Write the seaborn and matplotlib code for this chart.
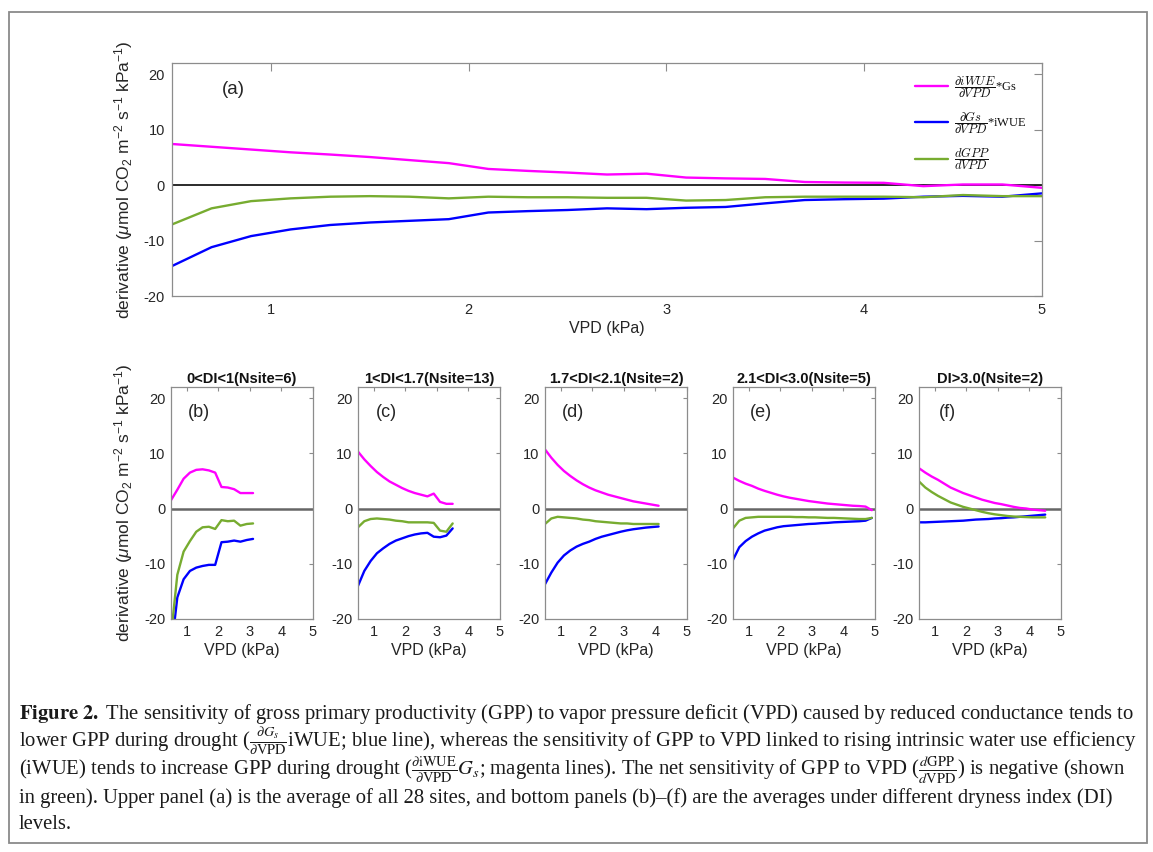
import numpy as np
import pandas as pd
import matplotlib
matplotlib.use("Agg")
import matplotlib.pyplot as plt
import seaborn as sns
from matplotlib.font_manager import FontProperties
from matplotlib.lines import Line2D
from matplotlib.patches import Rectangle

# ---------------- data ----------------
vpd_a = [0.5, 0.7, 0.9, 1.1, 1.3, 1.5, 1.7, 1.9, 2.1, 2.3, 2.5, 2.7, 2.9, 3.1, 3.3, 3.5, 3.7, 3.9, 4.1, 4.3, 4.5, 4.7, 4.9]
a_iwue = [7.4, 6.9, 6.4, 5.9, 5.5, 5.05, 4.5, 3.95, 2.9, 2.55, 2.25, 1.9, 2.05, 1.35, 1.2, 1.1, 0.55, 0.45, 0.4, -0.2, 0.1, 0.1, -0.5]
a_gs = [-14.6, -11.2, -9.2, -8.0, -7.2, -6.75, -6.45, -6.15, -4.95, -4.7, -4.5, -4.2, -4.35, -4.1, -3.95, -3.3, -2.7, -2.55, -2.45, -2.1, -1.95, -2.1, -1.5]
a_gpp = [-7.1, -4.2, -2.9, -2.4, -2.1, -2.0, -2.1, -2.4, -2.1, -2.2, -2.2, -2.3, -2.3, -2.8, -2.7, -2.2, -2.1, -2.1, -2.1, -2.2, -1.8, -2.0, -2.0]

vpd_b = [0.5, 0.7, 0.9, 1.1, 1.3, 1.5, 1.7, 1.9, 2.1, 2.3, 2.5, 2.7, 2.9, 3.1]
b_iwue = [1.5, 3.4, 5.4, 6.5, 7.0, 7.1, 6.9, 6.5, 3.9, 3.8, 3.5, 2.8, 2.8, 2.8]
b_gs = [-26.0, -16.1, -12.8, -11.3, -10.7, -10.4, -10.2, -10.2, -6.1, -6.0, -5.8, -6.0, -5.7, -5.5]
b_gpp = [-23.0, -12.0, -7.8, -5.9, -4.2, -3.4, -3.3, -3.7, -2.1, -2.3, -2.2, -3.1, -2.8, -2.7]

vpd_c = [0.5, 0.7, 0.9, 1.1, 1.3, 1.5, 1.7, 1.9, 2.1, 2.3, 2.5, 2.7, 2.9, 3.1, 3.3, 3.5]
c_iwue = [10.3, 8.9, 7.7, 6.6, 5.7, 4.9, 4.3, 3.7, 3.2, 2.8, 2.5, 2.2, 2.7, 1.2, 0.85, 0.85]
c_gs = [-14.0, -11.3, -9.5, -8.1, -7.2, -6.4, -5.8, -5.4, -5.0, -4.7, -4.5, -4.4, -5.1, -5.2, -4.9, -3.6]
c_gpp = [-3.4, -2.3, -1.9, -1.8, -1.9, -2.0, -2.2, -2.3, -2.5, -2.5, -2.5, -2.5, -2.6, -4.0, -4.2, -2.7]

vpd_d = [0.5, 0.7, 0.9, 1.1, 1.3, 1.5, 1.7, 1.9, 2.1, 2.3, 2.5, 2.7, 2.9, 3.1, 3.3, 3.5, 3.7, 3.9, 4.1]
d_iwue = [10.7, 9.2, 7.9, 6.8, 5.9, 5.1, 4.4, 3.8, 3.3, 2.9, 2.5, 2.2, 1.9, 1.6, 1.3, 1.1, 0.9, 0.7, 0.5]
d_gs = [-13.7, -11.6, -9.8, -8.5, -7.6, -6.9, -6.4, -6.0, -5.5, -5.1, -4.8, -4.5, -4.2, -3.95, -3.75, -3.6, -3.45, -3.35, -3.25]
d_gpp = [-2.8, -1.8, -1.5, -1.6, -1.7, -1.8, -2.0, -2.1, -2.3, -2.4, -2.5, -2.6, -2.7, -2.7, -2.8, -2.8, -2.8, -2.8, -2.8]

vpd_e = [0.5, 0.7, 0.9, 1.1, 1.3, 1.5, 1.7, 1.9, 2.1, 2.3, 2.5, 2.7, 2.9, 3.1, 3.3, 3.5, 3.7, 3.9, 4.1, 4.3, 4.5, 4.7, 4.9]
e_iwue = [5.6, 5.0, 4.5, 4.1, 3.6, 3.2, 2.85, 2.5, 2.2, 1.95, 1.75, 1.55, 1.35, 1.2, 1.05, 0.9, 0.8, 0.7, 0.6, 0.5, 0.45, 0.35, -0.3]
e_gs = [-9.3, -7.0, -5.9, -5.1, -4.5, -4.0, -3.7, -3.4, -3.2, -3.1, -3.0, -2.9, -2.8, -2.75, -2.65, -2.6, -2.5, -2.45, -2.4, -2.35, -2.3, -2.2, -1.7]
e_gpp = [-3.6, -2.2, -1.7, -1.6, -1.5, -1.5, -1.5, -1.5, -1.5, -1.5, -1.55, -1.55, -1.6, -1.6, -1.65, -1.7, -1.7, -1.75, -1.8, -1.85, -1.9, -1.9, -1.7]

vpd_f = [0.5, 0.7, 0.9, 1.1, 1.3, 1.5, 1.7, 1.9, 2.1, 2.3, 2.5, 2.7, 2.9, 3.1, 3.3, 3.5, 3.7, 3.9, 4.1, 4.3, 4.5]
f_iwue = [7.3, 6.5, 5.8, 5.2, 4.5, 3.8, 3.3, 2.8, 2.4, 2.0, 1.6, 1.3, 1.0, 0.8, 0.55, 0.3, 0.1, 0.0, -0.2, -0.3, -0.4]
f_gs = [-2.5, -2.5, -2.45, -2.4, -2.35, -2.3, -2.25, -2.2, -2.1, -2.0, -1.95, -1.9, -1.8, -1.75, -1.65, -1.6, -1.5, -1.4, -1.3, -1.2, -1.1]
f_gpp = [4.9, 3.8, 3.0, 2.3, 1.7, 1.1, 0.7, 0.3, 0.0, -0.3, -0.6, -0.85, -1.05, -1.2, -1.35, -1.45, -1.5, -1.55, -1.6, -1.6, -1.6]

top_xtick_pos = [1, 2, 3, 4, 4.9]
top_xtick_labels = ["1", "2", "3", "4", "5"]
panel_titles = ["0<DI<1(Nsite=6)", "1<DI<1.7(Nsite=13)", "1.7<DI<2.1(Nsite=2)",
                "2.1<DI<3.0(Nsite=5)", "DI>3.0(Nsite=2)"]
panel_letters = ["(b)", "(c)", "(d)", "(e)", "(f)"]
series_names = ["iwue", "gs", "gpp"]
series_colors = {"iwue": "#FF00FF", "gs": "#0000FF", "gpp": "#77AC30"}
legend_labels = [r"$\dfrac{\partial iWUE}{\partial VPD}$*Gs",
                 r"$\dfrac{\partial Gs}{\partial VPD}$*iWUE",
                 r"$\dfrac{dGPP}{dVPD}$"]
ylabel_text = r"derivative ($\mu$mol CO$_2$ m$^{-2}$ s$^{-1}$ kPa$^{-1}$)"

caption_lines = [
    r"$\mathbf{Figure\ 2.}$ The sensitivity of gross primary productivity (GPP) to vapor pressure deficit (VPD) caused by reduced conductance tends to",
    r"lower GPP during drought ($\frac{\partial G_s}{\partial \mathrm{VPD}}$iWUE; blue line), whereas the sensitivity of GPP to VPD linked to rising intrinsic water use efficiency",
    r"(iWUE) tends to increase GPP during drought ($\frac{\partial \mathrm{iWUE}}{\partial \mathrm{VPD}}G_s$; magenta lines). The net sensitivity of GPP to VPD ($\frac{d\mathrm{GPP}}{d\mathrm{VPD}}$) is negative (shown",
    "in green). Upper panel (a) is the average of all 28 sites, and bottom panels (b)\u2013(f) are the averages under different dryness index (DI)",
    "levels.",
]


def make_df(x, iwue, gs, gpp):
    frames = []
    for name, vals in zip(series_names, [iwue, gs, gpp]):
        frames.append(pd.DataFrame({"VPD": x, "value": vals, "series": name}))
    return pd.concat(frames, ignore_index=True)


df_a = make_df(vpd_a, a_iwue, a_gs, a_gpp)
df_bottom = [make_df(vpd_b, b_iwue, b_gs, b_gpp),
             make_df(vpd_c, c_iwue, c_gs, c_gpp),
             make_df(vpd_d, d_iwue, d_gs, d_gpp),
             make_df(vpd_e, e_iwue, e_gs, e_gpp),
             make_df(vpd_f, f_iwue, f_gs, f_gpp)]

# ---------------- style ----------------
sns.set_theme(style="white")
plt.rcParams["font.family"] = ["Liberation Sans", "DejaVu Sans"]
plt.rcParams["mathtext.fontset"] = "custom"
plt.rcParams["mathtext.rm"] = "Liberation Sans"
plt.rcParams["mathtext.it"] = "Liberation Sans:italic"
plt.rcParams["mathtext.bf"] = "Liberation Sans:bold"
plt.rcParams["axes.unicode_minus"] = False

TXT = "#262626"
SPINE = "#8c8c8c"

W, H = 1153, 852
fig = plt.figure(figsize=(W / 100, H / 100), dpi=100)
fig.patch.set_facecolor("white")


def px_axes(left, top, right, bottom):
    return fig.add_axes([left / W, 1 - bottom / H, (right - left) / W, (bottom - top) / H])


def style_axes(ax, ticklen):
    for s in ax.spines.values():
        s.set_visible(True)
        s.set_color(SPINE)
        s.set_linewidth(0.9)
    ax.tick_params(direction="in", top=True, right=True, length=ticklen, width=0.8,
                   color=SPINE, labelcolor=TXT, labelsize=10.5, pad=4)
    ax.set_facecolor("white")


# ---------------- top panel ----------------
ax = px_axes(172, 63, 1042, 296)
ax.axhline(0, color="#1a1a1a", lw=1.3, zorder=1)
sns.lineplot(data=df_a, x="VPD", y="value", hue="series", hue_order=series_names,
             palette=series_colors, estimator=None, sort=False, lw=1.7,
             legend=False, ax=ax, zorder=2)
ax.set_xlim(0.5, 4.9)
ax.set_ylim(-20, 22)
ax.set_xticks(top_xtick_pos)
ax.set_xticklabels(top_xtick_labels)
ax.set_yticks([-20, -10, 0, 10, 20])
style_axes(ax, 5.5)
ax.tick_params(axis="both", pad=5)
ax.set_xlabel("VPD (kPa)", fontsize=11.5, color=TXT, labelpad=3)
ax.set_ylabel(ylabel_text, fontsize=12.5, color=TXT, labelpad=6)
ax.text(0.07, 0.885, "(a)", transform=ax.transAxes, fontsize=13.5, color=TXT,
        ha="center", va="center")

handles = [Line2D([0], [0], color=series_colors[n], lw=1.7) for n in series_names]
leg_prop = FontProperties(family="Liberation Serif", size=9, math_fontfamily="cm")
leg = ax.legend(handles, legend_labels, loc="upper left", prop=leg_prop, frameon=False,
                bbox_to_anchor=(915 / W, 1 - 74 / H), bbox_transform=fig.transFigure,
                borderpad=0, borderaxespad=0, handlelength=2.6, handletextpad=0.5,
                labelspacing=0.75)
for t in leg.get_texts():
    t.set_color("#111111")

# ---------------- bottom panels ----------------
lefts = [171, 358, 545, 733, 919]
for i, (left, dfp) in enumerate(zip(lefts, df_bottom)):
    axb = px_axes(left, 387, left + 142, 619)
    axb.axhline(0, color="#666666", lw=1.8, zorder=1)
    sns.lineplot(data=dfp, x="VPD", y="value", hue="series", hue_order=series_names,
                 palette=series_colors, estimator=None, sort=False, lw=1.7,
                 legend=False, ax=axb, zorder=2)
    axb.set_xlim(0.5, 5)
    axb.set_ylim(-20, 22)
    axb.set_xticks([1, 2, 3, 4, 5])
    axb.set_yticks([-20, -10, 0, 10, 20])
    style_axes(axb, 3)
    axb.set_xlabel("VPD (kPa)", fontsize=11.5, color=TXT, labelpad=3)
    if i == 0:
        axb.set_ylabel(ylabel_text, fontsize=12.5, color=TXT, labelpad=6.5)
    else:
        axb.set_ylabel("")
    axb.set_title(panel_titles[i], fontsize=10.5, fontweight="bold", color="#111111", pad=3)
    axb.text(0.2, 0.888, panel_letters[i], transform=axb.transAxes, fontsize=13,
             color=TXT, ha="center", va="center")

# ---------------- border + caption ----------------
fig.patches.append(Rectangle((9 / W, 1 - 843 / H), (1147 - 9) / W, (843 - 12) / H,
                             transform=fig.transFigure, fill=False,
                             ec="#8a8a8a", lw=1.3))

cap_x = 19 / W
baselines = [719, 747, 775, 803, 829]
renderer = fig.canvas.get_renderer()
cap_prop = dict(family="Liberation Serif", math_fontfamily="stix")
probe = fig.text(cap_x, 1 - baselines[0] / H, caption_lines[0], fontsize=12,
                 va="baseline", ha="left", color="#1a1a1a", **cap_prop)
w = probe.get_window_extent(renderer).width
cap_size = 12 * (1114 / w)
probe.remove()
for line, b in zip(caption_lines, baselines):
    fig.text(cap_x, 1 - b / H, line, fontsize=cap_size, va="baseline", ha="left",
             color="#1a1a1a", **cap_prop)

fig.savefig("out.png", dpi=100, facecolor="white")
